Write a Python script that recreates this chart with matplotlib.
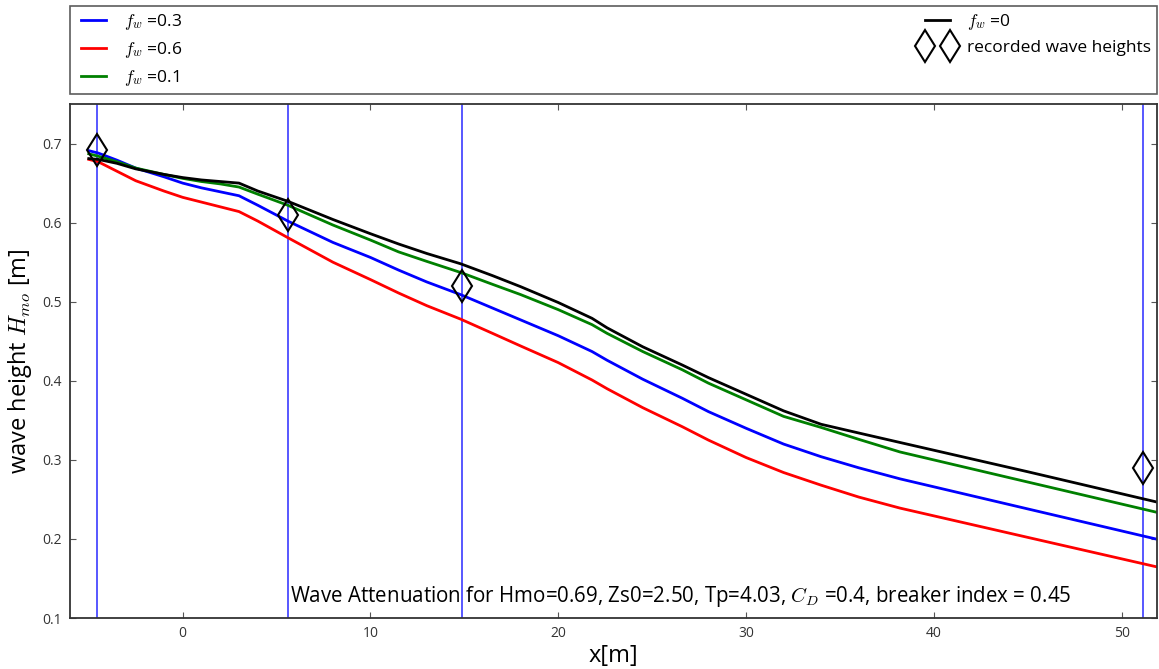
import matplotlib
matplotlib.use("Agg")
import matplotlib.pyplot as plt

plt.rcParams['font.family'] = ['Open Sans', 'DejaVu Sans']
plt.rcParams['mathtext.fontset'] = 'cm'

# Distance along the transect [m]
x = [-5.0, -4.5, -3.5, -2.5, -1.0, 0.0, 1.0, 2.0, 3.0, 4.0, 5.6, 8.0, 10.0,
     11.5, 13.0, 14.8, 16.5, 18.0, 20.0, 21.8, 22.6, 24.5, 26.6, 28.0, 30.0,
     32.0, 34.0, 36.0, 38.2, 45.0, 52.0]

# Modelled significant wave height for each friction factor
h_fw03 = [0.691, 0.688, 0.679, 0.669, 0.658, 0.650, 0.644, 0.639, 0.634, 0.622,
          0.602, 0.575, 0.556, 0.540, 0.525, 0.509, 0.492, 0.477, 0.457, 0.437,
          0.426, 0.402, 0.378, 0.361, 0.340, 0.320, 0.304, 0.290, 0.276, 0.238,
          0.199]
h_fw06 = [0.680, 0.677, 0.665, 0.653, 0.640, 0.632, 0.626, 0.620, 0.614, 0.602,
          0.581, 0.550, 0.528, 0.511, 0.495, 0.478, 0.460, 0.444, 0.423, 0.401,
          0.390, 0.366, 0.342, 0.325, 0.303, 0.284, 0.268, 0.253, 0.239, 0.202,
          0.164]
h_fw01 = [0.687, 0.684, 0.677, 0.669, 0.661, 0.656, 0.652, 0.649, 0.645, 0.636,
          0.622, 0.597, 0.578, 0.563, 0.551, 0.537, 0.522, 0.509, 0.490, 0.471,
          0.460, 0.437, 0.414, 0.397, 0.376, 0.355, 0.341, 0.326, 0.310, 0.272,
          0.233]
h_fw00 = [0.681, 0.680, 0.675, 0.668, 0.661, 0.657, 0.654, 0.652, 0.650, 0.640,
          0.627, 0.604, 0.586, 0.573, 0.561, 0.548, 0.533, 0.519, 0.499, 0.479,
          0.467, 0.443, 0.420, 0.404, 0.383, 0.362, 0.345, 0.334, 0.322, 0.285,
          0.246]

# Gauge positions and recorded wave heights
gauge_x = [-4.55, 5.6, 14.87, 51.15]
gauge_h = [0.692, 0.610, 0.520, 0.290]

fig = plt.figure(figsize=(11.59, 6.69), dpi=100)
ax = fig.add_axes([0.0604, 0.0762, 0.9381, 0.7683])

for gx in gauge_x:
    ax.axvline(gx, color='#2a2aff', lw=1.1, zorder=1)

l1, = ax.plot(x, h_fw03, color='#0000ff', lw=2, label=r'$f_w$ =0.3')
l2, = ax.plot(x, h_fw06, color='#ff0000', lw=2, label=r'$f_w$ =0.6')
l3, = ax.plot(x, h_fw01, color='#008000', lw=2, label=r'$f_w$ =0.1')
l4, = ax.plot(x, h_fw00, color='black', lw=2, label=r'$f_w$ =0')
m, = ax.plot(gauge_x, gauge_h, linestyle='none', marker='d', markersize=16.5,
             mfc='none', mec='black', mew=1.5, label='recorded wave heights',
             zorder=5)

ax.set_xlim(-6, 51.9)
ax.set_ylim(0.1, 0.75)
ax.set_xticks([0, 10, 20, 30, 40, 50])
ax.set_yticks([0.1, 0.2, 0.3, 0.4, 0.5, 0.6, 0.7])
ax.tick_params(direction='in', top=True, right=True, length=4, width=0.8,
               labelsize=10, labelcolor='#333333', color='#555555', pad=6)
for s in ax.spines.values():
    s.set_color('#333333')
    s.set_linewidth(1.3)

ax.set_xlabel('x[m]', fontsize=17, labelpad=2)
ax.set_ylabel(r'wave height $H_{mo}$ [m]', fontsize=17, labelpad=6)

ax.text(0.202, 0.031,
        r'Wave Attenuation for Hmo=0.69, Zs0=2.50, Tp=4.03, $C_D$ =0.4, breaker index = 0.45',
        transform=ax.transAxes, fontsize=14.8, va='baseline', ha='left')

leg = ax.legend(handles=[l1, l2, l3, l4, m], loc='lower left',
                bbox_to_anchor=(0, 1.02, 1, 0.102), ncol=2, mode='expand',
                borderaxespad=0, numpoints=2, fontsize=12.5, fancybox=False,
                handlelength=2.05, handletextpad=0.7, labelspacing=0.45,
                borderpad=0.35)
frame = leg.get_frame()
frame.set_edgecolor('#333333')
frame.set_linewidth(1.2)

fig.savefig('out.png', dpi=100)
